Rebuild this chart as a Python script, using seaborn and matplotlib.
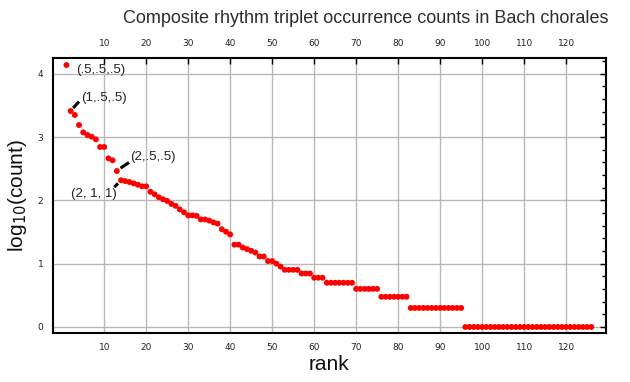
import numpy as np
import pandas as pd
import matplotlib
matplotlib.use("Agg")
import matplotlib.pyplot as plt
from matplotlib.ticker import MultipleLocator
import seaborn as sns

# occurrence counts by rank
counts = [13770, 2585, 2235, 1553, 1190, 1080, 1015, 922, 698, 698,
          462, 430, 291, 208, 202, 195, 186, 177, 167, 167,
          137, 125, 112, 104, 98, 88, 82, 72, 65, 58,
          58, 57, 50, 50, 48, 45, 43, 35, 32, 29,
          20, 20, 18, 17, 16, 15, 13, 13, 11, 11,
          10, 9, 8, 8, 8, 8, 7, 7, 7, 6,
          6, 6] + [5] * 7 + [4] * 6 + [3] * 7 + [2] * 13 + [1] * 31
ranks = list(range(1, len(counts) + 1))
xticks = [10, 20, 30, 40, 50, 60, 70, 80, 90, 100, 110, 120]

# labelled triplets: (text, label x, label y, ha, segment x0, x1, y0, y1)
notes = [
    ("(.5,.5,.5)", 3.4, 4.06, "left", None),
    ("(1,.5,.5)", 4.6, 3.62, "left", (2.6, 4.0, 3.46, 3.56)),
    ("(2,.5,.5)", 16.2, 2.69, "left", (13.9, 15.9, 2.51, 2.60)),
    ("(2, 1, 1)", 12.9, 2.10, "right", (12.4, 13.3, 2.21, 2.27)),
]

df = pd.DataFrame({"rank": ranks, "logcount": np.log10(counts)})

sns.set_style("white")
plt.rcParams["font.family"] = ["Liberation Sans", "DejaVu Sans"]

fig = plt.figure(figsize=(6.3, 3.82), dpi=100)
ax = fig.add_axes([53 / 630, 1 - 333 / 382, 553 / 630, 275 / 382])

sns.scatterplot(data=df, x="rank", y="logcount", color="#ff0000", s=18,
                linewidth=0, edgecolor="none", ax=ax, zorder=3)

for txt, tx, ty, ha, seg in notes:
    if seg is not None:
        ax.plot(seg[:2], seg[2:], color="black", lw=2.2, zorder=4,
                solid_capstyle="butt")
    ax.text(tx, ty, txt, ha=ha, va="center", fontsize=9.5, color="#222222",
            zorder=5)

ax.set_xlim(-2.2, 129.5)
ax.set_ylim(-0.095, 4.25)
ax.set_xticks(xticks)
ax.yaxis.set_major_locator(MultipleLocator(1))
ax.yaxis.set_minor_locator(MultipleLocator(0.2))
ax.grid(True, which="major", color="#b8b8b8", lw=1, zorder=0)
ax.set_axisbelow(True)

ax.tick_params(axis="both", which="both", direction="in", color="black",
               top=True, right=True, labeltop=True, labelbottom=True,
               labelsize=6.5, pad=7, labelcolor="#222222")
ax.tick_params(axis="both", which="major", length=4, width=1)
ax.tick_params(axis="y", which="minor", length=3, width=1)
for tl in ax.get_xticklabels() + ax.get_yticklabels():
    tl.set_family("DejaVu Sans")
for sp in ax.spines.values():
    sp.set_color("black")
    sp.set_linewidth(1.5)

ax.set_xlabel("rank", fontsize=15, color="#111111", labelpad=2)
ax.set_ylabel(r"log$_{10}$(count)", fontsize=15, color="#111111", labelpad=6)

fig.text(0.966, 0.952, "Composite rhythm triplet occurrence counts in Bach chorales",
         ha="right", va="center", fontsize=13, color="#2a2f2a")

fig.savefig("out.png", dpi=100)
